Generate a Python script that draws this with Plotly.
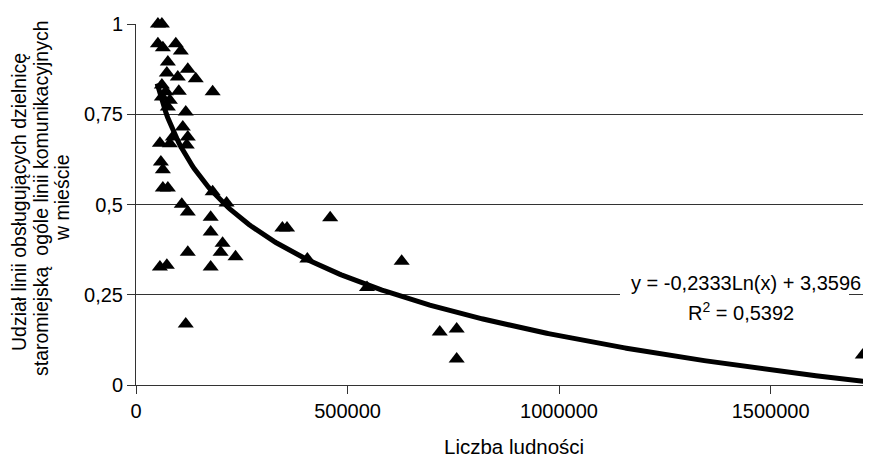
import numpy as np
import plotly.graph_objects as go

# Population (x) and share of lines serving the old town (y)
population = [51800, 61200, 51800, 63500, 94100, 105900, 75300, 122400, 72900, 98800,
              141200, 61200, 70600, 101200, 181200, 61200, 80000, 75300, 117600, 110600,
              87100, 122400, 56500, 80000, 120000, 58800, 63500, 63500, 75300, 181200,
              108200, 122400, 214100, 176500, 176500, 204700, 200000, 122400, 235300, 56500,
              72900, 176500, 117600, 346000, 357000, 459000, 405000, 546000, 628000, 718000,
              758000, 758000, 1718000]
share = [1.0, 1.0, 0.945, 0.934, 0.945, 0.925, 0.895, 0.875, 0.864, 0.853,
         0.848, 0.831, 0.812, 0.814, 0.812, 0.798, 0.789, 0.770, 0.756, 0.715,
         0.687, 0.687, 0.670, 0.668, 0.665, 0.618, 0.596, 0.546, 0.546, 0.535,
         0.501, 0.479, 0.504, 0.465, 0.424, 0.393, 0.368, 0.368, 0.355, 0.327,
         0.332, 0.327, 0.169, 0.435, 0.435, 0.463, 0.349, 0.270, 0.343, 0.147,
         0.155, 0.072, 0.083]

# Logarithmic trend line coefficients as printed on the chart
trend_a = -0.2333
trend_b = 3.3596
trend_x_start = 50000
trend_x_end = 1720000

y_ticks = [0, 0.25, 0.5, 0.75, 1]
y_tick_labels = ["0", "0,25", "0,5", "0,75", "1"]
x_ticks = [0, 500000, 1000000, 1500000]
x_tick_labels = ["0", "500000", "1000000", "1500000"]

y_title_lines = ["Udział linii obsługujących dzielnicę",
                 "staromiejską&nbsp; ogóle linii komunikacyjnych",
                 "w mieście"]
x_title = "Liczba ludności"
eq_line1 = "y = -0,2333Ln(x) + 3,3596"
eq_line2 = "R<sup>2</sup> = 0,5392"

tx = np.linspace(trend_x_start, trend_x_end, 400)
ty = trend_a * np.log(tx) + trend_b

font_family = "Liberation Sans, Arial, sans-serif"

# page pixel -> paper coordinates (plot area spans page x 136..870, y 24..385)
def px(x):
    return (x - 136) / 734

def py(y):
    return (385 - y) / 361

fig = go.Figure()
fig.add_trace(go.Scatter(x=tx, y=ty, mode="lines",
                         line=dict(color="black", width=5), hoverinfo="skip"))
fig.add_trace(go.Scatter(x=population, y=share, mode="markers", cliponaxis=False,
                         marker=dict(symbol="triangle-up", color="black", size=14,
                                     line=dict(width=0))))

fig.update_layout(
    width=863, height=451,
    margin=dict(l=128, r=1, t=16, b=74, pad=0),
    plot_bgcolor="white", paper_bgcolor="white",
    showlegend=False,
    font=dict(family=font_family, size=20, color="black"),
    xaxis=dict(range=[0, 1735000], tickvals=x_ticks, ticktext=x_tick_labels,
               showgrid=False, zeroline=False, showline=True, linecolor="#333",
               linewidth=1, ticks="outside", ticklen=8, tickcolor="#333",
               tickfont=dict(size=20)),
    yaxis=dict(range=[0, 1], tickvals=y_ticks, ticktext=y_tick_labels,
               showgrid=True, gridcolor="#333", gridwidth=1, zeroline=False,
               showline=True, linecolor="#333", linewidth=1,
               ticks="outside", ticklen=8, tickcolor="#333",
               tickfont=dict(size=20)),
)

# y-axis title: three rotated lines
for text, xpos, ypos in zip(y_title_lines, [19, 41, 62], [202, 198, 198]):
    fig.add_annotation(xref="paper", yref="paper", x=px(xpos), y=py(ypos),
                       xanchor="center", yanchor="middle", textangle=-90,
                       showarrow=False, text=text, font=dict(size=19.5))

# x-axis title
fig.add_annotation(xref="paper", yref="paper", x=px(514), y=py(446),
                   xanchor="center", yanchor="middle", showarrow=False,
                   text=x_title, font=dict(size=20.5), borderpad=0)

# white box behind the equation (covers the gridline)
fig.add_shape(type="rect", xref="paper", yref="paper",
              x0=px(620), x1=px(849), y0=py(328), y1=py(261),
              fillcolor="white", line=dict(width=0), layer="above")

fig.add_annotation(xref="paper", yref="paper", x=px(746), y=py(283),
                   xanchor="center", yanchor="middle", showarrow=False,
                   text=eq_line1, font=dict(size=20))
fig.add_annotation(xref="paper", yref="paper", x=px(741), y=py(311),
                   xanchor="center", yanchor="middle", showarrow=False,
                   text=eq_line2, font=dict(size=20))

fig.write_html("out.html")
